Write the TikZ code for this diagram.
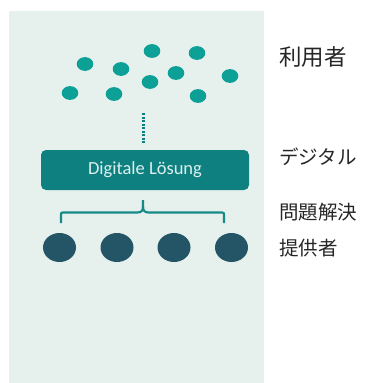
\documentclass[tikz,border=0pt]{standalone}
\usepackage{fontspec}
\setmainfont{Liberation Serif}
\newfontfamily\jpfont{Noto Sans CJK JP}
\newfontfamily\boxfont{Carlito}
\usetikzlibrary{shapes.geometric}
\definecolor{panelbg}{RGB}{230,241,238}
\definecolor{userdot}{RGB}{12,160,150}
\definecolor{boxteal}{RGB}{14,128,128}
\definecolor{bracketc}{RGB}{22,138,134}
\definecolor{provider}{RGB}{35,85,102}
\definecolor{boxtext}{RGB}{220,240,238}
\tikzset{
  userdotst/.style={ellipse, fill=userdot, inner sep=0pt, minimum width=16.6pt, minimum height=13.8pt},
  provst/.style={ellipse, fill=provider, inner sep=0pt, minimum width=33pt, minimum height=29pt},
  solbox/.style={rectangle, rounded corners=5pt, fill=boxteal, inner sep=0pt, minimum width=208pt, minimum height=40pt, text=boxtext, font=\boxfont\fontsize{18.5}{20}\selectfont},
  jplabel/.style={anchor=west, inner sep=0pt, text=black!85, font=\jpfont\fontsize{19.5}{22}\selectfont},
  linkdots/.style={draw=boxteal, line width=3pt, dash pattern=on 2.2pt off 1.3pt},
  bracketst/.style={draw=bracketc, line width=2.2pt}
}
\begin{document}
\begin{tikzpicture}[x=1pt,y=-1pt]
\useasboundingbox (0,0) rectangle (368,383);
\fill[panelbg] (9,11) rectangle (264,383);
% users
\node[userdotst] (u1) at (85,64) {};
\node[userdotst] (u2) at (152,51) {};
\node[userdotst] (u3) at (197,53) {};
\node[userdotst] (u4) at (121,69) {};
\node[userdotst] (u5) at (176,73) {};
\node[userdotst] (u6) at (230,76) {};
\node[userdotst] (u7) at (150,82) {};
\node[userdotst] (u8) at (70,93) {};
\node[userdotst] (u9) at (114,94) {};
\node[userdotst] (u10) at (198,96) {};
% solution box
\node[solbox] (box) at (145,170) {Digitale Lösung};
\coordinate (dtop) at (143,113);
\coordinate (dbot) at (143,143);
\draw[linkdots] (dtop) -- (dbot);
% providers
\node[provst] (p1) at (59.5,247.5) {};
\node[provst] (p2) at (117,247.5) {};
\node[provst] (p3) at (174,247.5) {};
\node[provst] (p4) at (231.5,247.5) {};
% bracket
\coordinate (bt) at (143,200);
\coordinate (bl) at (61,223);
\coordinate (br) at (224,223);
\draw[bracketst, line join=round] (bl) -- (61,215) .. controls (61,213) and (61,212.5) .. (63,212.5) -- (137,212.5) .. controls (141,212.5) and (143,211) .. (143,207) -- (bt);
\draw[bracketst, line join=round] (br) -- (224,215) .. controls (224,213) and (224,212.5) .. (222,212.5) -- (149,212.5) .. controls (145,212.5) and (143,211) .. (143,207);
% labels
\node[jplabel, font=\jpfont\fontsize{22.5}{24}\selectfont] (l1) at (279,57) {利用者};
\node[jplabel] (l2) at (279,157) {デジタル};
\node[jplabel] (l3) at (279,212) {問題解決};
\node[jplabel] (l4) at (279,248) {提供者};
\end{tikzpicture}
\end{document}
